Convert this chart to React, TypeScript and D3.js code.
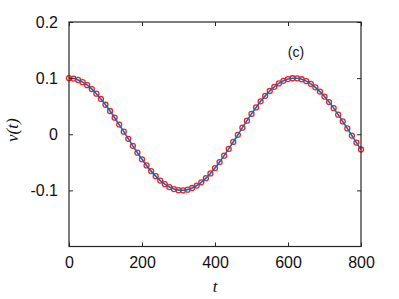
import * as d3 from "d3";
import { useEffect, useRef } from "react";

// sample times and v(t)
const tValues = [
  0, 12.5, 25, 37.5, 50, 62.5, 75, 87.5, 100, 112.5, 125, 137.5, 150, 162.5,
  175, 187.5, 200, 212.5, 225, 237.5, 250, 262.5, 275, 287.5, 300, 312.5, 325,
  337.5, 350, 362.5, 375, 387.5, 400, 412.5, 425, 437.5, 450, 462.5, 475,
  487.5, 500, 512.5, 525, 537.5, 550, 562.5, 575, 587.5, 600, 612.5, 625,
  637.5, 650, 662.5, 675, 687.5, 700, 712.5, 725, 737.5, 750, 762.5, 775,
  787.5, 800,
];
const vValues = [
  0.1, 0.0992, 0.0968, 0.0928, 0.0874, 0.0805, 0.0723, 0.0629, 0.0526, 0.0414,
  0.0295, 0.0172, 0.0046, -0.0081, -0.0207, -0.0329, -0.0446, -0.0556,
  -0.0657, -0.0747, -0.0825, -0.089, -0.0941, -0.0976, -0.0996, -0.0999,
  -0.0987, -0.0958, -0.0914, -0.0856, -0.0783, -0.0698, -0.0602, -0.0495,
  -0.0381, -0.0261, -0.0137, -0.001, 0.0117, 0.0242, 0.0363, 0.0478, 0.0586,
  0.0684, 0.0771, 0.0845, 0.0906, 0.0952, 0.0983, 0.0998, 0.0997, 0.098,
  0.0947, 0.0899, 0.0836, 0.076, 0.0672, 0.0573, 0.0465, 0.0349, 0.0228,
  0.0104, -0.0023, -0.0149, -0.0272,
];
const xTicks = [0, 200, 400, 600, 800];
const yTicks = [-0.1, 0, 0.1, 0.2];
const panelLabel = "(c)";

export default function App() {
  const svgRef = useRef<SVGSVGElement>(null);
  const width = 399;
  const height = 299;

  useEffect(() => {
    if (!svgRef.current) return;
    const svg = d3.select(svgRef.current);
    svg.selectAll("*").remove();

    const left = 69, right = 361, top = 22, bottom = 246.5;
    const x = d3.scaleLinear().domain([0, 800]).range([left, right]);
    const y = d3.scaleLinear().domain([-0.2, 0.2]).range([bottom, top]);
    const axisColor = "#262626";
    const font = "'Liberation Sans', Arial, sans-serif";

    const data = tValues.map((t, i) => [t, vValues[i]] as [number, number]);

    // markers
    svg.append("g")
      .selectAll("circle")
      .data(data)
      .enter()
      .append("circle")
      .attr("cx", (d) => x(d[0]))
      .attr("cy", (d) => y(d[1]))
      .attr("r", 2.5)
      .attr("fill", "none")
      .attr("stroke", "#ff1a1a")
      .attr("stroke-width", 1.3);

    const line = d3.line<[number, number]>()
      .x((d) => x(d[0]))
      .y((d) => y(d[1]))
      .curve(d3.curveMonotoneX);

    svg.append("path")
      .datum(data)
      .attr("d", line)
      .attr("fill", "none")
      .attr("stroke", "#0072BD")
      .attr("stroke-width", 1.6);

    // bottom axis
    const gx = svg.append("g")
      .attr("transform", `translate(0,${bottom})`)
      .call(d3.axisBottom(x).tickValues(xTicks).tickSizeInner(-4).tickSizeOuter(0).tickPadding(10));
    gx.select(".domain").remove();
    gx.selectAll("line").attr("stroke", axisColor);
    gx.selectAll("text").attr("font-size", 16).attr("font-family", font).attr("fill", "#111");

    const gxTop = svg.append("g")
      .attr("transform", `translate(0,${top})`)
      .call(d3.axisTop(x).tickValues(xTicks).tickSizeInner(-4).tickSizeOuter(0).tickFormat(() => ""));
    gxTop.select(".domain").remove();
    gxTop.selectAll("line").attr("stroke", axisColor);

    // left axis
    const gy = svg.append("g")
      .attr("transform", `translate(${left},0)`)
      .call(d3.axisLeft(y).tickValues(yTicks).tickSizeInner(-4).tickSizeOuter(0).tickPadding(11)
        .tickFormat((d) => (d === 0 ? "0" : d3.format(".1f")(d as number).replace("\u2212", "-"))));
    gy.select(".domain").remove();
    gy.selectAll("line").attr("stroke", axisColor);
    gy.selectAll("text").attr("font-size", 16).attr("font-family", font).attr("fill", "#111");

    const gyRight = svg.append("g")
      .attr("transform", `translate(${right},0)`)
      .call(d3.axisRight(y).tickValues(yTicks).tickSizeInner(-4).tickSizeOuter(0).tickFormat(() => ""));
    gyRight.select(".domain").remove();
    gyRight.selectAll("line").attr("stroke", axisColor);

    // box
    svg.append("rect")
      .attr("x", left)
      .attr("y", top)
      .attr("width", right - left)
      .attr("height", bottom - top)
      .attr("fill", "none")
      .attr("stroke", axisColor)
      .attr("stroke-width", 1.2);

    // axis labels
    svg.append("text")
      .attr("x", x(400))
      .attr("y", 292)
      .attr("text-anchor", "middle")
      .attr("font-family", "'Liberation Serif', serif")
      .attr("font-style", "italic")
      .attr("font-size", 17)
      .attr("fill", "#111")
      .text("t");

    svg.append("text")
      .attr("transform", `translate(18,${y(0) - 4}) rotate(-90)`)
      .attr("text-anchor", "middle")
      .attr("font-family", "'Liberation Serif', serif")
      .attr("font-style", "italic")
      .attr("font-size", 17)
      .attr("fill", "#111")
      .text("v(t)");

    svg.append("text")
      .attr("x", 296)
      .attr("y", 57)
      .attr("text-anchor", "middle")
      .attr("font-family", font)
      .attr("font-size", 14)
      .attr("fill", "#111")
      .text(panelLabel);
  }, []);

  return (
    <svg
      ref={svgRef}
      width={width}
      height={height}
      style={{ position: "absolute", left: 0, top: 0, background: "#fff" }}
    />
  );
}
